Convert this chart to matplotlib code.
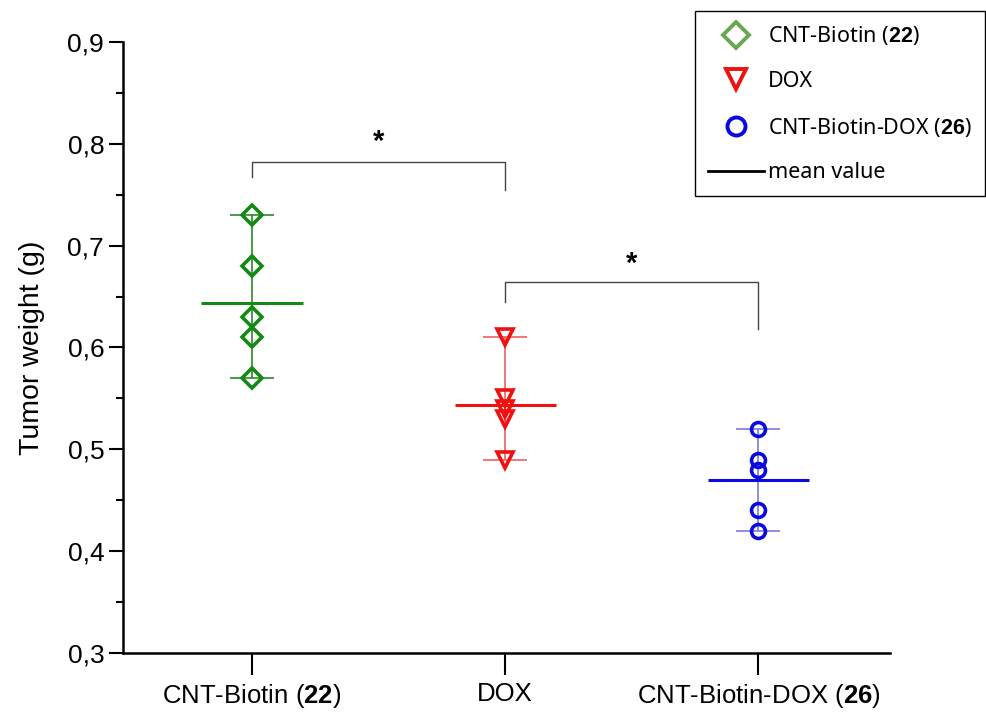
import matplotlib
matplotlib.use('Agg')
import matplotlib.pyplot as plt
from matplotlib.ticker import MultipleLocator, FuncFormatter
from matplotlib.lines import Line2D
import numpy as np

plt.rcParams['font.family'] = ['Liberation Sans', 'DejaVu Sans']
plt.rcParams['mathtext.fontset'] = 'custom'
plt.rcParams['mathtext.rm'] = 'Liberation Sans'
plt.rcParams['mathtext.bf'] = 'Liberation Sans:bold'

#### DATA ####
groups = ["CNT-Biotin ($\\mathbf{22}$)", "DOX", "CNT-Biotin-DOX ($\\mathbf{26}$)"]
cnt_biotin = [0.73, 0.68, 0.63, 0.61, 0.57]
dox = [0.61, 0.55, 0.54, 0.53, 0.49]
cnt_biotin_dox = [0.52, 0.49, 0.48, 0.44, 0.42]
series = [cnt_biotin, dox, cnt_biotin_dox]

# significance brackets: (x1, x2, top, left end, right end, star y)
brackets = [(1, 2, 0.782, 0.767, 0.755, 0.802),
            (2, 3, 0.664, 0.645, 0.618, 0.682)]

markers = ['D', 'v', 'o']
colors = ['#168816', '#f01010', '#0a0ae0']
bar_colors = ['#2a8a2a', '#ee6060', '#7c7cd0']
legend_colors = ['#6aa84f', '#f01010', '#0a0ae0']
sizes = [10, 11, 10]

fig = plt.figure(figsize=(9.87, 7.12), dpi=100)
ax = fig.add_axes([0.1246, 0.0829, 0.7771, 0.8581])

for i, vals in enumerate(series):
    x = i + 1
    vals = np.array(vals)
    m = vals.mean()
    ax.errorbar(x, m, yerr=[[m - vals.min()], [vals.max() - m]], fmt='none',
                ecolor=bar_colors[i], elinewidth=1.2, capsize=16, capthick=1.2, zorder=2)
    ax.plot([x] * len(vals), vals, linestyle='none', marker=markers[i], ms=sizes[i],
            mfc='none', mec=colors[i], mew=2.6, zorder=3)
    ax.hlines(m, x - 0.2, x + 0.2, color=colors[i], lw=2.2, zorder=4)

for x1, x2, top, l, r, sy in brackets:
    ax.plot([x1, x1, x2, x2], [l, top, top, r], color='#444444', lw=1.0)
    ax.text((x1 + x2) / 2, sy, '*', ha='center', va='center', fontsize=21,
            fontweight='bold', color='black')

ax.set_xlim(0.49, 3.52)
ax.set_ylim(0.3, 0.9)
ax.set_xticks([1, 2, 3])
ax.set_xticklabels(groups, fontsize=18.5)
ax.yaxis.set_major_locator(MultipleLocator(0.1))
ax.yaxis.set_minor_locator(MultipleLocator(0.05))
ax.yaxis.set_major_formatter(FuncFormatter(lambda v, p: f"{v:.1f}".replace('.', ',')))
ax.tick_params(axis='y', which='major', length=10, width=1.5, labelsize=19)
ax.tick_params(axis='y', which='minor', length=5, width=1.5)
ax.tick_params(axis='x', which='major', length=16, width=1.5, pad=5)
ax.set_ylabel('Tumor weight (g)', fontsize=20.5, labelpad=16)

for s in ['top', 'right']:
    ax.spines[s].set_visible(False)
for s in ['left', 'bottom']:
    ax.spines[s].set_linewidth(1.8)

handles = [Line2D([], [], linestyle='none', marker=markers[i], ms=sizes[i] + 3,
                  mfc='none', mec=legend_colors[i], mew=2.8) for i in range(3)]
handles.append(Line2D([], [], color='black', lw=2.0))
labels = ["CNT-Biotin ($\\mathbf{22}$)", "DOX", "CNT-Biotin-DOX ($\\mathbf{26}$)", "mean value"]
leg = fig.legend(handles, labels, loc='upper right', bbox_to_anchor=(1.0, 0.987),
                 prop={'family': ['Noto Sans', 'DejaVu Sans'], 'size': 15.5},
                 fancybox=False, edgecolor='black', framealpha=1,
                 handlelength=2.6, handletextpad=0.2, labelspacing=1.1,
                 borderpad=0.6, borderaxespad=0.1)
leg.get_frame().set_linewidth(1.0)

fig.savefig('out.png', dpi=100)
